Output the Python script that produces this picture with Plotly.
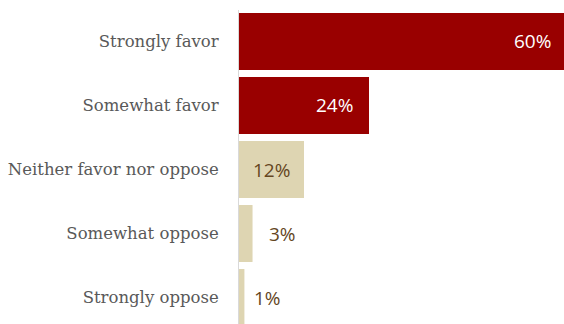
import plotly.graph_objects as go

categories = ["Strongly favor", "Somewhat favor", "Neither favor nor oppose", "Somewhat oppose", "Strongly oppose"]
values = [60, 24, 12, 2.5, 1]
labels = ["60%", "24%", "12%", "3%", "1%"]
bar_colors = ["#990000", "#990000", "#DED5B2", "#DED5B2", "#DED5B2"]
label_colors = ["#FFFFFF", "#FFFFFF", "#64461E", "#64461E", "#64461E"]

fig = go.Figure()
fig.add_trace(go.Bar(
    x=values, y=categories, orientation="h",
    marker=dict(color=bar_colors, line=dict(width=0)),
    width=0.89, hoverinfo="skip",
))

# label placement styles: (anchor, position mode, shift)
placements = [("right", "end", -11), ("right", "end", -14), ("center", "mid", 0), ("left", "end", 14), ("left", "end", 8)]
for cat, v, lab, col, (anc, mode, sh) in zip(categories, values, labels, label_colors, placements):
    fig.add_annotation(
        x=v if mode == "end" else v / 2, y=cat, text=lab, showarrow=False,
        xanchor=anc, xshift=sh, yanchor="middle",
        font=dict(family="Open Sans", size=19, color=col),
    )

fig.update_layout(
    width=564, height=324,
    margin=dict(l=239, r=0, t=10, b=0),
    paper_bgcolor="white", plot_bgcolor="white",
    showlegend=False,
    xaxis=dict(range=[0, 60], visible=False, fixedrange=True),
    yaxis=dict(
        type="category", categoryorder="array", categoryarray=categories,
        range=[4.414, -0.492],
        showline=True, linecolor="#D9D9D9", linewidth=1,
        showgrid=False, zeroline=False, ticks="",
        ticklabelstandoff=16,
        tickfont=dict(family="DejaVu Serif", size=16.5, color="#595959"),
    ),
)

fig.write_html(
    "out.html",
    config={"displayModeBar": False},
    post_script="document.body.style.margin='0';document.body.style.overflow='hidden';",
)
